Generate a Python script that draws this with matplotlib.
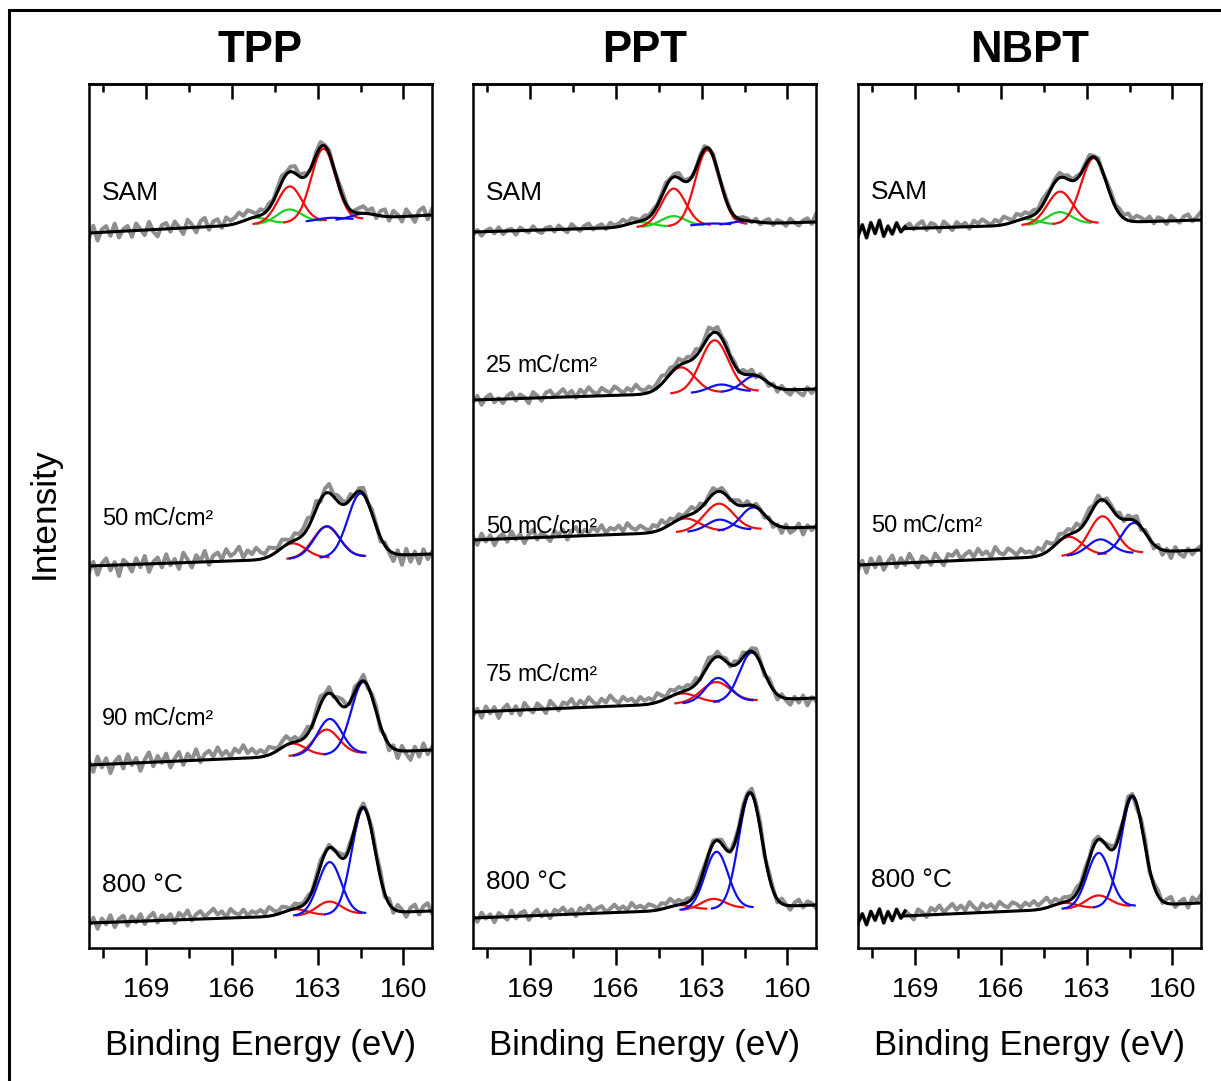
import numpy as np
import matplotlib
matplotlib.use("Agg")
import matplotlib.pyplot as plt
from matplotlib import transforms
from matplotlib.patches import Rectangle

plt.rcParams["font.family"] = ["Liberation Sans", "DejaVu Sans"]

# ---------------------------------------------------------------- data
E_HIGH, E_LOW = 171.0, 159.0
MAJOR_TICKS = [169, 166, 163, 160]
MINOR_TICKS = [170.5, 167.5, 164.5, 161.5]
SO_SPLIT = 1.18   # S 2p spin-orbit splitting (eV)
SO_RATIO = 0.5    # S 2p1/2 : S 2p3/2 intensity ratio
UNIT = "mC/cm²"

PANEL_TITLES = ["TPP", "PPT", "NBPT"]

# spectrum labels (dose or annealing temperature), top to bottom
TPP_LABELS = ["SAM", "50", "90", "800 °C"]
PPT_LABELS = ["SAM", "25", "50", "75", "800 °C"]
NBPT_LABELS = ["SAM", "50", "800 °C"]

# label baseline heights (stacked intensity, a.u.)
TPP_LABEL_Y = [748, 423, 223, 56]
PPT_LABEL_Y = [748, 576, 415, 267, 59]
NBPT_LABEL_Y = [749, 416, 61]

# linear background at 171 eV and at 159 eV (stacked intensity, a.u.)
TPP_BG_171 = [715, 382, 183, 25]
TPP_BG_159 = [733, 394, 198, 37]
PPT_BG_171 = [716, 548, 408, 236, 30]
PPT_BG_159 = [726, 559, 421, 250, 43]
NBPT_BG_171 = [718, 383, 30]
NBPT_BG_159 = [728, 398, 45]

# fitted S 2p3/2 components: (binding energy, height, FWHM); None = absent
TPP_RED = [(162.8, 72, 1.0), (162.7, 31, 1.1), (162.7, 25, 1.05), (162.6, 13, 1.0)]
TPP_BLUE = [(161.4, 5, 1.0), (161.5, 63, 1.05), (161.4, 71, 1.0), (161.4, 105, 0.95)]
TPP_GREEN = [(164.0, 13, 1.0), None, None, None]

PPT_RED = [(162.8, 75, 1.0), (162.55, 52, 1.15), (162.4, 27, 1.2), (162.5, 20, 1.2), (162.6, 10, 1.0)]
PPT_BLUE = [(161.5, 3, 1.0), (161.15, 15, 1.0), (161.2, 22, 1.0), (161.25, 48, 1.0), (161.3, 114, 0.95)]
PPT_GREEN = [(164.0, 10, 1.0), None, None, None, None]

NBPT_RED = [(162.75, 65, 1.05), (162.45, 38, 1.1), (162.6, 12, 1.0)]
NBPT_BLUE = [None, (161.35, 30, 1.0), (161.4, 109, 0.95)]
NBPT_GREEN = [(163.95, 12, 1.0), None, None]

# measured minus fit, 171 -> 159 eV in 0.15 eV steps (a.u.)
TPP_SAM_RES = [-5, 7, -8, 3, 6, -4, 8, -6, 2, 5,
               -6, 7, 1, -5, 8, -2, -7, 4, 6, -3,
               7, 1, -6, 8, 3, -5, 6, 9, -3, 5,
               7, -2, 8, 4, 6, 10, 5, 9, 6, 3,
               6, 2, 5, 1, 4, 6, 2, 5, 7, 2,
               4, 1, -2, 3, 5, 1, 3, -1, 2, 4,
               1, -3, 2, 5, 7, 3, 6, -3, 5, 7,
               -4, 6, 2, -5, 7, 1, -6, 5, 8, -4, 6]
TPP_50_RES = [-6, 4, -9, 2, 7, -5, 3, -11, 5, 1,
              -7, 6, -3, 8, -8, 2, 6, -4, 9, -2,
              4, -6, 10, 3, -5, 7, 1, 11, -3, 6,
              9, 2, 12, 5, 8, 14, 3, 10, 6, 12,
              7, 4, 9, 6, 3, 8, 5, 2, 7, 4,
              6, 10, 3, 8, -2, 5, 9, 2, 6, 4,
              1, 5, -3, 3, 6, 0, 4, 2, -4, 3,
              -2, -8, 4, -10, 6, -7, 3, -9, 5, -5, 2]
TPP_90_RES = [4, -7, 8, -3, 6, -9, 2, 7, -5, 9,
              -2, 5, -8, 3, 10, -4, 6, -1, 8, -6,
              3, 9, -4, 7, 1, 11, -2, 6, 9, 3,
              12, 4, 8, 2, 10, 6, 13, 5, 9, 4,
              7, 3, 8, 5, 2, 6, 9, 3, 5, 1,
              4, 7, -2, 5, 8, 2, 6, -1, 4, 7,
              2, -3, 5, 1, 6, -2, 3, 5, -4, 2,
              -6, 3, -8, 5, -3, -9, 4, -6, 7, -4, 3]
TPP_800_RES = [-3, 5, -6, 4, -2, 7, -5, 3, 6, -4,
               5, -1, 7, -3, 4, 8, -2, 5, 1, 6,
               -3, 7, 3, 9, -1, 5, 8, 2, 6, 10,
               4, 7, 1, 9, 5, 3, 8, 2, 6, 4,
               7, 3, 9, 5, 2, 6, 4, 1, 5, 3,
               2, 4, 0, 3, 5, 1, 3, -1, 2, 4,
               1, 3, -2, 2, 4, 1, 5, 3, 6, -3,
               5, -4, 6, 2, -5, 4, 7, -3, 5, 8, -2]
PPT_SAM_RES = [-3, 2, -4, 1, 3, -2, 4, -3, 1, 2,
               -4, 3, 0, -2, 4, -1, -3, 2, 3, -2,
               4, 0, -3, 5, 1, -2, 3, 5, -1, 2,
               4, -1, 5, 2, 3, 6, 2, 5, 3, 1,
               4, 2, 3, 1, 2, 4, 1, 3, 5, 1,
               2, 0, -1, 2, 3, 0, 2, -1, 1, 2,
               0, -2, 1, 3, 2, -1, 3, -2, 2, 4,
               -2, 3, 1, -3, 4, 0, -3, 2, 4, -2, 8]
PPT_25_RES = [-2, 4, -5, 2, 5, -3, 1, -4, 3, 6,
              -2, 4, 1, -5, 6, 2, -3, 5, 7, 1,
              4, 8, 2, 6, -1, 7, 3, 9, 4, 2,
              8, 5, 3, 9, 6, 2, 7, 4, 10, 5,
              3, 6, 2, 5, 8, 4, 6, 3, 7, 2,
              5, 3, 7, 1, 4, 9, 3, 6, 2, 4,
              1, 3, -1, 4, 2, 5, -2, 3, 1, -3,
              2, -4, 3, -2, -5, 1, -3, -6, 2, -4, 1]
PPT_50_RES = [3, -5, 6, -2, 4, -6, 2, 5, -3, 7,
              -1, 4, -5, 3, 8, -2, 5, 1, -4, 6,
              2, 7, -3, 5, 9, 1, 6, 3, 8, 4,
              10, 2, 7, 5, 9, 3, 11, 6, 4, 8,
              5, 2, 7, 4, 9, 3, 6, 2, 5, 1,
              4, 7, 2, 5, -1, 3, 6, 1, 4, 2,
              -1, 3, 5, 0, 4, -2, 3, 1, -3, 2,
              -4, 1, -6, 3, -5, -2, 4, -7, 2, -3, 1]
PPT_75_RES = [-4, 3, -6, 5, -2, 4, -7, 2, 6, -3,
              4, -5, 7, 1, -3, 6, 2, -4, 8, 3,
              -2, 6, 4, 9, 1, 7, 3, 10, 5, 2,
              8, 4, 11, 6, 3, 9, 5, 7, 2, 8,
              4, 6, 3, 9, 5, 2, 7, 4, 6, 3,
              5, 2, 6, -1, 4, 7, 2, 5, 1, 3,
              -2, 4, 1, 5, -1, 3, 6, 2, -3, 4,
              1, -5, 3, -2, -6, 2, -4, 3, -7, 1, -3]
PPT_800_RES = [2, -4, 5, -1, 3, -5, 4, 1, -3, 6,
               -2, 3, 5, -4, 2, 6, -1, 4, -3, 5,
               3, 7, 1, 5, -2, 6, 3, 8, 2, 5,
               7, 1, 4, 8, 3, 6, 2, 9, 4, 6,
               3, 7, 5, 2, 6, 4, 8, 3, 5, 2,
               4, 1, 3, 5, 2, 0, 3, 1, 4, 2,
               -1, 3, 1, 4, 2, 5, 3, 6, -2, 4,
               2, -3, 5, 1, -4, 3, 6, -2, 4, 2, -3]
NBPT_SAM_RES = [-6, 5, -8, 7, -4, 9, -7, 3, -5, 6,
                -3, 2, 5, -1, 4, 7, -2, 5, 3, -4,
                6, 2, -3, 5, 1, 4, -2, 6, 3, 7,
                4, 1, 6, 3, 8, 5, 2, 7, 4, 6,
                3, 5, 2, 6, 4, 1, 3, 5, 2, 4,
                1, 3, 0, 2, 4, 1, 3, -1, 2, 4,
                2, 5, 3, 7, 2, 6, 4, 1, 5, -2,
                4, 2, -3, 5, 1, -2, 4, 6, -1, 3, 8]
NBPT_50_RES = [-5, 4, -8, 6, -3, 7, -6, 2, 8, -4,
               5, -2, 9, 1, -5, 6, 3, -3, 8, 2,
               -4, 7, 5, 10, 1, 6, 9, 3, 11, 5,
               8, 2, 12, 6, 4, 10, 7, 3, 9, 5,
               6, 3, 8, 4, 10, 5, 2, 7, 4, 6,
               3, 8, 1, 5, 7, 2, 6, -1, 4, 3,
               1, 5, -2, 4, 2, 6, -3, 3, 1, -4,
               3, -5, 2, -7, 4, -3, -6, 2, -4, 1, 4]
NBPT_800_RES = [-5, 4, -7, 6, -3, 8, -6, 5, -4, 7,
                -2, 5, 1, -4, 6, 3, -2, 7, 4, 9,
                2, 6, 10, 4, 8, 3, 11, 6, 2, 9,
                5, 8, 3, 10, 6, 4, 9, 7, 3, 8,
                5, 9, 4, 7, 10, 3, 6, 2, 5, 4,
                3, 6, 2, 4, 1, 5, 3, -1, 2, 4,
                1, 3, -2, 5, 2, -4, 4, 6, -3, 3,
                5, -2, 4, 7, -3, 2, 5, -4, 6, 2, 8]

# the NBPT fit window starts at 169.4 eV for these spectra
NBPT_FIT_START = [169.4, None, 169.4]

PANELS = [
    dict(labels=TPP_LABELS, label_y=TPP_LABEL_Y, bg171=TPP_BG_171, bg159=TPP_BG_159,
         red=TPP_RED, blue=TPP_BLUE, green=TPP_GREEN,
         res=[TPP_SAM_RES, TPP_50_RES, TPP_90_RES, TPP_800_RES],
         fit_start=[None] * 4),
    dict(labels=PPT_LABELS, label_y=PPT_LABEL_Y, bg171=PPT_BG_171, bg159=PPT_BG_159,
         red=PPT_RED, blue=PPT_BLUE, green=PPT_GREEN,
         res=[PPT_SAM_RES, PPT_25_RES, PPT_50_RES, PPT_75_RES, PPT_800_RES],
         fit_start=[None] * 5),
    dict(labels=NBPT_LABELS, label_y=NBPT_LABEL_Y, bg171=NBPT_BG_171, bg159=NBPT_BG_159,
         red=NBPT_RED, blue=NBPT_BLUE, green=NBPT_GREEN,
         res=[NBPT_SAM_RES, NBPT_50_RES, NBPT_800_RES],
         fit_start=NBPT_FIT_START),
]

# ---------------------------------------------------------------- style
C_RED, C_BLUE, C_GREEN = "#ee1010", "#1010ee", "#20d020"
C_DATA = "#8e8e8e"
W, H = 1221, 1081
AX_LEFT = [89, 473, 858]
AX_W = 343
AX_TOP, AX_BOTTOM = 84, 948


def gauss(e, centre, height, fwhm):
    return height * np.exp(-4 * np.log(2) * (e - centre) ** 2 / fwhm ** 2)


def doublet(e, comp):
    centre, height, fwhm = comp
    return [gauss(e, centre, height, fwhm),
            gauss(e, centre + SO_SPLIT, height * SO_RATIO, fwhm)]


def background(e, b171, b159):
    return np.interp(e, [E_LOW, E_HIGH], [b159, b171])


fig = plt.figure(figsize=(W / 100, H / 100), dpi=100)

# outer frame
fig.patches.append(Rectangle((9 / W, -0.2), 1.5, 1.2 - 10 / H, transform=fig.transFigure,
                             fill=False, lw=2.2, edgecolor="black"))

e_fine = np.linspace(E_HIGH, E_LOW, 601)

for p, (panel, title) in enumerate(zip(PANELS, PANEL_TITLES)):
    ax = fig.add_axes([AX_LEFT[p] / W, 1 - AX_BOTTOM / H, AX_W / W, (AX_BOTTOM - AX_TOP) / H])
    ax.set_xlim(E_HIGH, E_LOW)
    ax.set_ylim(0, AX_BOTTOM - AX_TOP)
    ax.set_yticks([])
    for s in ax.spines.values():
        s.set_linewidth(1.8)
    ax.set_xticks(MAJOR_TICKS)
    ax.set_xticks(MINOR_TICKS, minor=True)
    ax.tick_params(axis="x", which="major", direction="out", length=12, width=1.8,
                   labelsize=20.5, pad=9)
    ax.tick_params(axis="x", which="minor", direction="out", length=7, width=1.8)
    top = ax.secondary_xaxis("top")
    top.set_xticks(MAJOR_TICKS)
    top.set_xticks(MINOR_TICKS, minor=True)
    top.tick_params(axis="x", which="major", direction="in", length=11, width=1.8, labeltop=False)
    top.tick_params(axis="x", which="minor", direction="in", length=6, width=1.8)
    top.spines["top"].set_linewidth(1.8)

    n = len(panel["labels"])
    for i in range(n):
        b171, b159 = panel["bg171"][i], panel["bg159"][i]
        comps = []
        for key, col in (("green", C_GREEN), ("red", C_RED), ("blue", C_BLUE)):
            c = panel[key][i]
            if c is not None:
                comps.append((c, col))

        # measured spectrum
        res = np.asarray(panel["res"][i], dtype=float)
        e_meas = np.linspace(E_HIGH, E_LOW, len(res))
        fit_meas = background(e_meas, b171, b159)
        for c, _ in comps:
            fit_meas = fit_meas + sum(doublet(e_meas, c))
        meas = fit_meas + res
        start = panel["fit_start"][i]
        ax.plot(e_meas, meas, color=C_DATA, lw=2.9, zorder=1, solid_joinstyle="round")

        # fitted components
        bg = background(e_fine, b171, b159)
        env = bg.copy()
        for c, col in comps:
            for g in doublet(e_fine, c):
                env = env + g
                m = g > 0.4
                if m.any():
                    ax.plot(e_fine[m], bg[m] + g[m], color=col, lw=1.6, zorder=2)

        if start is None:
            ax.plot(e_fine, env, color="black", lw=2.2, zorder=3)
        else:
            m = e_fine <= start
            ax.plot(e_fine[m], env[m], color="black", lw=2.2, zorder=3)
            mm = e_meas >= start - 0.15
            ax.plot(e_meas[mm], meas[mm], color="black", lw=2.2, zorder=3)

        # label
        lab = panel["labels"][i]
        ly = panel["label_y"][i]
        if lab.isdigit():
            ax.text(170.55, ly, lab, fontsize=17, ha="left", va="baseline", zorder=4)
            tr = transforms.offset_copy(ax.transData, fig=fig, x=22.5, y=0, units="points")
            ax.text(170.55, ly, UNIT, fontsize=16.5, ha="left", va="baseline",
                    transform=tr, zorder=4)
        else:
            ax.text(170.55, ly, lab, fontsize=19, ha="left", va="baseline", zorder=4)

    cx = (AX_LEFT[p] + AX_W / 2) / W
    fig.text(cx, 1 - 51 / H, title, fontsize=31.5, fontweight="bold", ha="center", va="center")
    fig.text(cx, 1 - 1046 / H, "Binding Energy (eV)", fontsize=25, ha="center", va="center")

fig.text(44 / W, 1 - 513 / H, "Intensity", fontsize=25.5, rotation=90, ha="center", va="center")

fig.savefig("out.png", dpi=100, facecolor="white")
